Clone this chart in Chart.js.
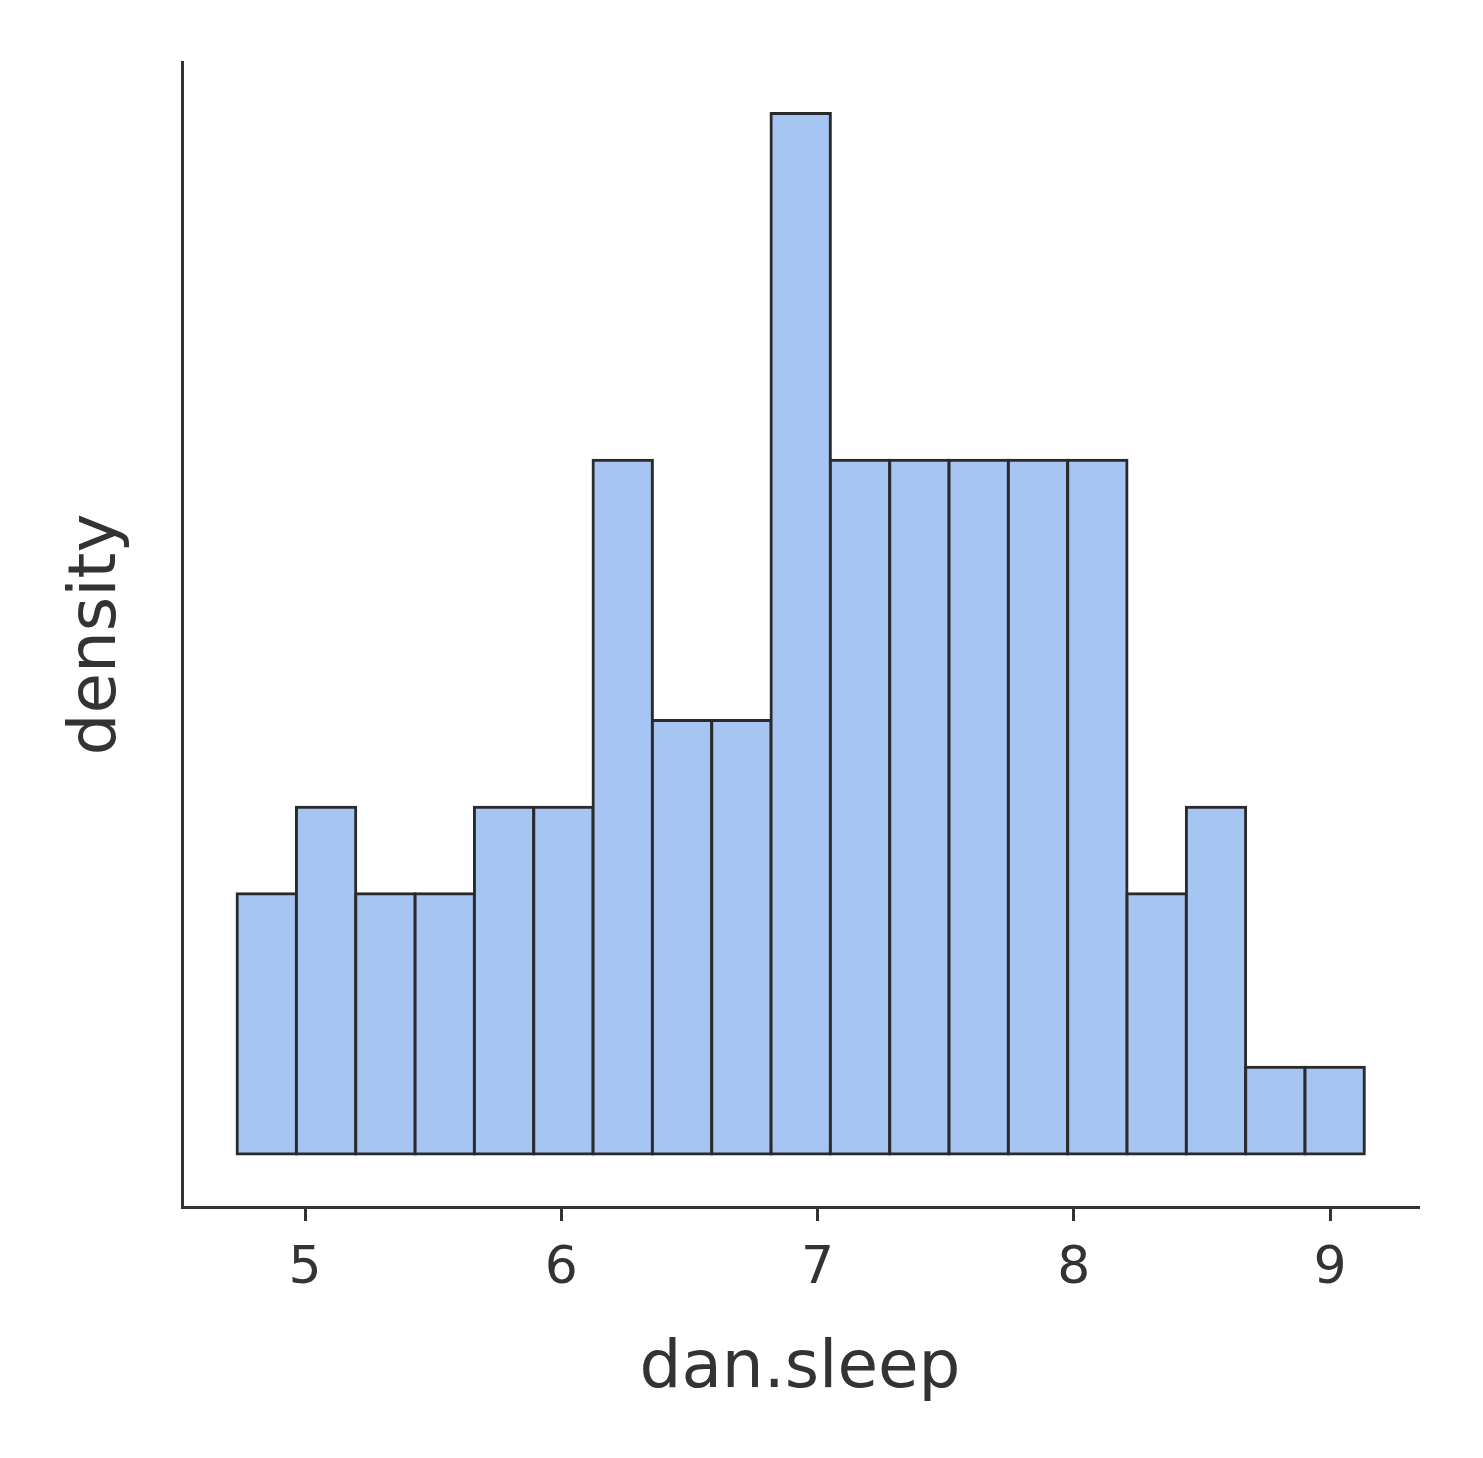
<!DOCTYPE html>
<html>
<head>
<meta charset="utf-8">
<script src="https://cdn.jsdelivr.net/npm/chart.js@4"></script>
<style>
  html, body { margin: 0; padding: 0; background: #ffffff; }
  #wrap { width: 1483px; height: 1458px; }
</style>
</head>
<body>
<div id="wrap"><canvas id="c" width="1483" height="1458"></canvas></div>
<script>
// ---- data ----
const binStart = 4.735;          // left edge of the first bin
const binWidth = 0.2315;         // width of every bin
const binCounts = [3, 4, 3, 3, 4, 4, 8, 5, 5, 12, 8, 8, 8, 8, 8, 3, 4, 1, 1];
const xTickValues = [5, 6, 7, 8, 9];
const xTitle = 'dan.sleep';
const yTitle = 'density';

const total = binCounts.reduce((a, b) => a + b, 0);
const histData = binCounts.map((c, i) => ({
  x: binStart + binWidth * (i + 0.5),
  y: c / (total * binWidth)
}));

const ink = '#333333';
const fontFam = '"DejaVu Sans", sans-serif';

new Chart(document.getElementById('c'), {
  type: 'bar',
  data: {
    datasets: [{
      data: histData,
      backgroundColor: '#a7c5f2',
      borderColor: '#2a2a2a',
      borderWidth: 3,
      borderSkipped: false,
      inflateAmount: 1.5,
      barPercentage: 1,
      categoryPercentage: 1
    }]
  },
  options: {
    responsive: false,
    devicePixelRatio: 1,
    animation: false,
    layout: { padding: { top: 62, right: 65, left: 0, bottom: 0 } },
    plugins: { legend: { display: false }, tooltip: { enabled: false } },
    scales: {
      x: {
        type: 'linear',
        min: 4.52,
        max: 9.343,
        offset: false,
        afterBuildTicks: (s) => { s.ticks = xTickValues.map(v => ({ value: v })); },
        afterFit: (s) => { s.height = 251; },
        grid: {
          display: true, offset: false, drawOnChartArea: false, drawTicks: true,
          tickLength: 14, color: ink, lineWidth: 3
        },
        border: { display: true, color: ink, width: 3 },
        ticks: {
          color: ink, padding: 17,
          font: { family: fontFam, size: 52 },
          maxRotation: 0
        },
        title: {
          display: true, text: xTitle, color: ink,
          font: { family: fontFam, size: 66 },
          padding: { top: 0, bottom: 49 }
        }
      },
      y: {
        type: 'linear',
        min: -0.0264,
        max: 0.544,
        afterFit: (s) => { s.width = 182; },
        grid: { display: false },
        border: { display: true, color: ink, width: 3 },
        ticks: { display: false },
        title: {
          display: true, text: yTitle, color: ink,
          font: { family: fontFam, size: 66 },
          padding: { top: 58, bottom: 0 }
        }
      }
    }
  }
});
</script>
</body>
</html>
